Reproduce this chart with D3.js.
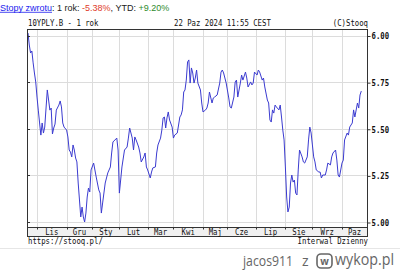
<!DOCTYPE html>
<html><head><meta charset="utf-8">
<script src="https://cdn.jsdelivr.net/npm/d3@7"></script>
<style>html,body{margin:0;padding:0;background:#fff;overflow:hidden}</style>
</head><body>
<svg id="c" width="400" height="270"></svg>
<script>
const title = "10YPLY.B - 1 rok";
const stamp = "22 Paz 2024 11:55 CEST";
const copyright = "(C)Stooq";
const months = ["Lis","Gru","Sty","Lut","Mar","Kwi","Maj","Cze","Lip","Sie","Wrz","Paz"];
const monthStarts = [7,30,50,71,93,113,136,155,177,200,221,244];
const lastDay = 259;
const yTicks = [5.00,5.25,5.50,5.75,6.00];
const days = [0,1,2,3,4,5,6,7,8,9,10,11,12,13,15,17,18,19,20,21,22,24,25,26,27,28,30,31,32,33,34,35,36,37,38,39,40,41,42,43,44,45,46,47,48,49,51,53,55,56,57,58,60,61,62,64,65,66,69,70,71,73,75,77,78,79,81,82,83,84,86,87,88,90,91,92,93,95,96,97,99,100,101,103,104,105,106,107,108,109,110,112,113,114,116,117,118,119,120,121,122,123,124,125,126,127,128,129,130,131,132,134,135,136,138,139,140,141,143,144,145,147,149,150,151,152,154,156,157,158,160,161,162,163,165,166,167,169,170,171,173,174,175,176,178,179,180,182,183,184,186,187,188,189,190,191,192,193,195,196,197,198,199,200,201,202,203,204,205,206,207,208,209,210,211,213,214,215,217,218,219,220,221,222,223,224,226,227,228,229,231,232,233,235,236,237,239,240,241,242,244,245,246,248,249,250,252,253,254,256,257,258,259];
const yields = [6.013,5.949,5.906,5.917,5.853,5.799,5.751,5.670,5.600,5.531,5.466,5.531,5.477,5.509,5.708,5.600,5.611,5.472,5.504,5.525,5.600,5.627,5.649,5.617,5.531,5.509,5.493,5.456,5.386,5.375,5.349,5.413,5.386,5.343,5.322,5.209,5.118,5.027,5.080,5.027,5.000,5.048,5.134,5.182,5.161,5.279,5.316,5.241,5.172,5.155,5.048,5.102,5.209,5.236,5.263,5.295,5.370,5.429,5.450,5.386,5.155,5.295,5.386,5.402,5.450,5.504,5.450,5.386,5.456,5.440,5.402,5.370,5.322,5.349,5.370,5.295,5.279,5.236,5.268,5.290,5.295,5.370,5.413,5.450,5.493,5.558,5.563,5.504,5.558,5.590,5.547,5.509,5.450,5.466,5.477,5.520,5.563,5.574,5.601,5.697,5.708,5.761,5.858,5.869,5.745,5.826,5.799,5.745,5.772,5.815,5.745,5.708,5.638,5.590,5.601,5.611,5.638,5.697,5.638,5.665,5.670,5.681,5.745,5.804,5.815,5.799,5.745,5.665,5.617,5.611,5.670,5.751,5.761,5.670,5.745,5.788,5.761,5.804,5.772,5.724,5.751,5.735,5.745,5.804,5.788,5.815,5.804,5.761,5.772,5.724,5.654,5.638,5.547,5.536,5.601,5.584,5.627,5.617,5.601,5.627,5.563,5.493,5.440,5.295,5.134,5.054,5.080,5.209,5.252,5.214,5.225,5.155,5.145,5.279,5.386,5.349,5.322,5.316,5.349,5.440,5.509,5.477,5.413,5.349,5.322,5.279,5.268,5.268,5.236,5.252,5.252,5.279,5.316,5.306,5.349,5.370,5.386,5.332,5.252,5.241,5.316,5.332,5.440,5.477,5.466,5.509,5.531,5.601,5.563,5.638,5.611,5.681,5.702];

const L = 27, R = 367, T = 29, B = 227, BB = 236;
const svg = d3.select("#c");
const x = d3.scaleLinear().domain([0, lastDay]).range([28, 361.3]);
const y = d3.scaleLinear().domain([5.00, 6.00]).range([222, 35.5]);
const mono = "'DejaVu Sans Mono', monospace";
const CW = 4.4;

function monoText(px, py, s, anchor, bold) {
  const t = svg.append("text").attr("x", px).attr("y", py)
    .attr("font-family", mono).attr("font-size", 8.8)
    .attr("text-anchor", anchor || "start")
    .attr("textLength", s.length * CW).attr("lengthAdjust", "spacingAndGlyphs")
    .attr("fill", "#111").text(s);
  if (bold) t.attr("font-weight", "bold");
  return t;
}

// header line 1
const h = svg.append("text").attr("x", 0).attr("y", 10.5)
  .attr("font-family", "'Liberation Sans', Arial, sans-serif").attr("font-size", 9);
h.append("tspan").attr("fill", "#1a1aee").text("Stopy zwrotu");
h.append("tspan").attr("fill", "#222").text(": 1 rok: ");
h.append("tspan").attr("fill", "#e03a2a").text("-5.38%");
h.append("tspan").attr("fill", "#222").text(", YTD: ");
h.append("tspan").attr("fill", "#2e8b2e").text("+9.20%");
svg.append("line").attr("x1", 0).attr("x2", 52).attr("y1", 12.3).attr("y2", 12.3)
  .attr("stroke", "#1a1aee").attr("stroke-width", 0.8);

// header line 2
monoText(L + 1, 26, title);
monoText(174, 26, stamp);
monoText(R + 1, 26, copyright, "end");

// plot background & grid
svg.append("rect").attr("x", L).attr("y", T).attr("width", R - L).attr("height", B - T).attr("fill", "#fff");
svg.append("g").selectAll("line").data(monthStarts).join("line")
  .attr("x1", d => Math.round(x(d)) + 0.5).attr("x2", d => Math.round(x(d)) + 0.5)
  .attr("y1", T).attr("y2", B).attr("stroke", "#dcdcdc").attr("stroke-width", 1);
svg.append("g").selectAll("line").data(yTicks).join("line")
  .attr("x1", L).attr("x2", R)
  .attr("y1", d => Math.round(y(d)) + 0.5).attr("y2", d => Math.round(y(d)) + 0.5)
  .attr("stroke", "#dcdcdc").attr("stroke-width", 1);

// line
const line = d3.line().x((d, i) => x(days[i])).y(d => y(d));
svg.append("path").datum(yields).attr("d", line)
  .attr("fill", "none").attr("stroke", "#3b3bd0").attr("stroke-width", 1);

// month band
svg.append("rect").attr("x", L + 0.5).attr("y", B + 0.5).attr("width", R - L).attr("height", BB - B)
  .attr("fill", "#f0f0f0").attr("stroke", "#333").attr("stroke-width", 1);
svg.append("g").selectAll("line").data(monthStarts).join("line")
  .attr("x1", d => Math.round(x(d)) + 0.5).attr("x2", d => Math.round(x(d)) + 0.5)
  .attr("y1", B).attr("y2", B + 2.5).attr("stroke", "#333");
const bounds = monthStarts.map(d => x(d)).concat([R]);
months.forEach((m, i) => {
  monoText((bounds[i] + bounds[i + 1]) / 2, BB - 1.2, m, "middle");
});

// plot border
svg.append("rect").attr("x", L + 0.5).attr("y", T + 0.5).attr("width", R - L).attr("height", B - T)
  .attr("fill", "none").attr("stroke", "#333").attr("stroke-width", 1);

// y axis ticks (right) & left ticks
const yAxis = d3.axisRight(y).tickValues(yTicks).tickSize(3).tickPadding(1).tickFormat(d3.format(".2f"));
const ga = svg.append("g").attr("transform", `translate(${R + 0.5},0.5)`).call(yAxis);
ga.select(".domain").remove();
ga.selectAll("line").attr("stroke", "#333");
ga.selectAll("text").attr("font-family", mono).attr("font-size", 8.8).attr("font-weight", "bold")
  .attr("fill", "#111").attr("textLength", 4 * CW).attr("lengthAdjust", "spacingAndGlyphs");
svg.append("g").selectAll("line").data(yTicks).join("line")
  .attr("x1", L).attr("x2", L + 3)
  .attr("y1", d => Math.round(y(d)) + 0.5).attr("y2", d => Math.round(y(d)) + 0.5)
  .attr("stroke", "#333");

// footer
monoText(L + 1, 244, "https://stooq.pl/");
monoText(R + 1, 244, "Interwal Dzienny", "end");

// separator and watermark
svg.append("line").attr("x1", 0).attr("x2", 400).attr("y1", 248.5).attr("y2", 248.5)
  .attr("stroke", "#e6e6e6");
svg.append("text").attr("x", 243).attr("y", 266).attr("font-family", "'Open Sans', sans-serif")
  .attr("font-size", 14).attr("fill", "#666").attr("textLength", 50).attr("lengthAdjust", "spacingAndGlyphs")
  .text("jacos911");
svg.append("text").attr("x", 302).attr("y", 266).attr("font-family", "'Open Sans', sans-serif")
  .attr("font-size", 14).attr("fill", "#666").text("z");
svg.append("rect").attr("x", 317).attr("y", 254).attr("width", 15).attr("height", 14).attr("rx", 4)
  .attr("fill", "none").attr("stroke", "#666").attr("stroke-width", 1.6);
svg.append("text").attr("x", 324.5).attr("y", 265).attr("text-anchor", "middle")
  .attr("font-family", "'Open Sans', sans-serif").attr("font-weight", "bold")
  .attr("font-size", 10).attr("fill", "#666").text("w");
svg.append("text").attr("x", 335).attr("y", 265).attr("font-family", "'Open Sans', sans-serif")
  .attr("font-size", 16).attr("fill", "#666").attr("textLength", 59).attr("lengthAdjust", "spacingAndGlyphs")
  .text("wykop.pl");
</script>
</body></html>
